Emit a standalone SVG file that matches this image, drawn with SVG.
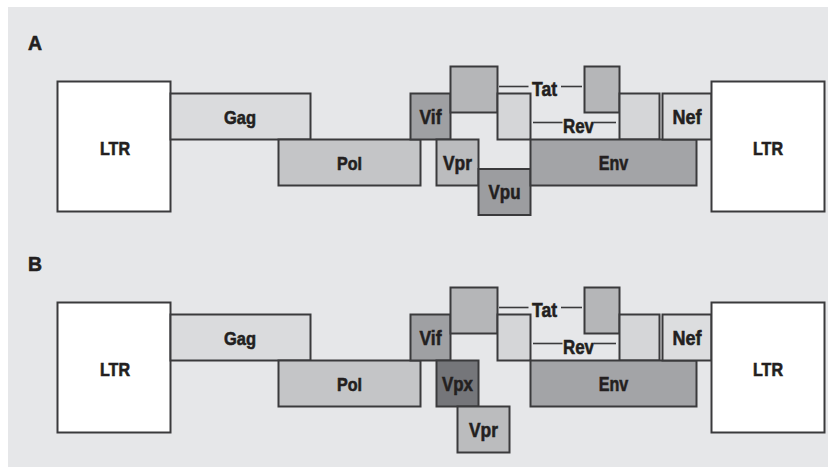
<svg xmlns="http://www.w3.org/2000/svg" width="828" height="467" viewBox="0 0 828 467">
<style>
rect.b{stroke:#3a3a3c;stroke-width:2}
.ltr{fill:#ffffff}
.gag{fill:#dadbdd}
.pol{fill:#c4c5c7}
.vif{fill:#9fa0a3}
.tat{fill:#b5b6b8}
.rev{fill:#d5d6d8}
.nef{fill:#dcdddf}
.env{fill:#a3a4a7}
.vpr{fill:#bbbcbe}
.vpu{fill:#9c9da0}
.vpx{fill:#75767a}
text{font-family:"Liberation Sans Narrow","Liberation Sans",Arial,sans-serif;font-weight:bold;fill:#231f20;stroke:#231f20;stroke-width:0.6;text-anchor:middle}
.sm{font-size:21px}
.md{font-size:19px}
.lg{font-size:18px}
.hd{font-size:20px;text-anchor:start}
.cn line{stroke:#3a3a3c;stroke-width:1.6}
</style>
<rect x="8" y="7" width="820" height="460" fill="#e6e7e9"/>

<g id="sectionA">
<text class="hd" x="28" y="50" textLength="14" lengthAdjust="spacingAndGlyphs">A</text>
<g id="a-ltr5"><rect class="b ltr" x="57.5" y="81.5" width="113" height="130"/><text class="lg" x="115" y="155" textLength="30" lengthAdjust="spacingAndGlyphs">LTR</text></g>
<g id="a-gag"><rect class="b gag" x="170.5" y="93.5" width="140" height="46"/><text class="md" x="240" y="123.5" textLength="32" lengthAdjust="spacingAndGlyphs">Gag</text></g>
<g id="a-pol"><rect class="b pol" x="278.5" y="139.5" width="142" height="46"/><text class="md" x="349.5" y="169.5" textLength="25" lengthAdjust="spacingAndGlyphs">Pol</text></g>
<g id="a-vif"><rect class="b vif" x="410.5" y="93.5" width="40" height="46"/><text class="sm" x="430.5" y="124" textLength="22" lengthAdjust="spacingAndGlyphs">Vif</text></g>
<g id="a-vpr"><rect class="b vpr" x="436.5" y="139.5" width="42" height="46"/><text class="sm" x="457.5" y="170" textLength="29" lengthAdjust="spacingAndGlyphs">Vpr</text></g>
<g id="a-vpu"><rect class="b vpu" x="478.5" y="169" width="52" height="46"/><text class="sm" x="504.5" y="199" textLength="32" lengthAdjust="spacingAndGlyphs">Vpu</text></g>
<g id="a-tat"><rect class="b tat" x="450.5" y="66.5" width="47" height="46"/><rect class="b tat" x="584.5" y="66.5" width="35" height="46"/><text class="sm" x="544.5" y="96" textLength="25" lengthAdjust="spacingAndGlyphs">Tat</text></g>
<g id="a-rev"><rect class="b rev" x="497.5" y="93.5" width="33" height="46"/><rect class="b rev" x="619.5" y="93.5" width="40" height="46"/><text class="sm" x="578.5" y="133" textLength="31" lengthAdjust="spacingAndGlyphs">Rev</text></g>
<g id="a-env"><rect class="b env" x="530.5" y="139.5" width="166" height="46"/><text class="sm" x="613.5" y="170" textLength="29.5" lengthAdjust="spacingAndGlyphs">Env</text></g>
<g id="a-nef"><rect class="b nef" x="662.5" y="93.5" width="49" height="46"/><text class="sm" x="687" y="124" textLength="29" lengthAdjust="spacingAndGlyphs">Nef</text></g>
<g id="a-ltr3"><rect class="b ltr" x="711.5" y="81.5" width="113" height="130"/><text class="lg" x="768" y="155" textLength="30" lengthAdjust="spacingAndGlyphs">LTR</text></g>
</g>

<g id="sectionB">
<text class="hd" x="28" y="271" textLength="14" lengthAdjust="spacingAndGlyphs">B</text>
<g id="b-ltr5"><rect class="b ltr" x="57.5" y="302.5" width="113" height="130"/><text class="lg" x="115" y="376" textLength="30" lengthAdjust="spacingAndGlyphs">LTR</text></g>
<g id="b-gag"><rect class="b gag" x="170.5" y="314.5" width="140" height="46"/><text class="md" x="240" y="344.5" textLength="32" lengthAdjust="spacingAndGlyphs">Gag</text></g>
<g id="b-pol"><rect class="b pol" x="278.5" y="360.5" width="142" height="46"/><text class="md" x="349.5" y="390.5" textLength="25" lengthAdjust="spacingAndGlyphs">Pol</text></g>
<g id="b-vif"><rect class="b vif" x="410.5" y="314.5" width="40" height="46"/><text class="sm" x="430.5" y="345" textLength="22" lengthAdjust="spacingAndGlyphs">Vif</text></g>
<g id="b-vpx"><rect class="b vpx" x="436.5" y="360.5" width="42" height="46"/><text class="sm" x="457.5" y="391" textLength="31" lengthAdjust="spacingAndGlyphs">Vpx</text></g>
<g id="b-vpr"><rect class="b vpr" x="457.5" y="406.5" width="52" height="46"/><text class="sm" x="483.5" y="437" textLength="29" lengthAdjust="spacingAndGlyphs">Vpr</text></g>
<g id="b-tat"><rect class="b tat" x="450.5" y="287.5" width="47" height="46"/><rect class="b tat" x="584.5" y="287.5" width="35" height="46"/><text class="sm" x="544.5" y="317" textLength="25" lengthAdjust="spacingAndGlyphs">Tat</text></g>
<g id="b-rev"><rect class="b rev" x="497.5" y="314.5" width="33" height="46"/><rect class="b rev" x="619.5" y="314.5" width="40" height="46"/><text class="sm" x="578.5" y="354" textLength="31" lengthAdjust="spacingAndGlyphs">Rev</text></g>
<g id="b-env"><rect class="b env" x="530.5" y="360.5" width="166" height="46"/><text class="sm" x="613.5" y="391" textLength="29.5" lengthAdjust="spacingAndGlyphs">Env</text></g>
<g id="b-nef"><rect class="b nef" x="662.5" y="314.5" width="49" height="46"/><text class="sm" x="687" y="345" textLength="29" lengthAdjust="spacingAndGlyphs">Nef</text></g>
<g id="b-ltr3"><rect class="b ltr" x="711.5" y="302.5" width="113" height="130"/><text class="lg" x="768" y="376" textLength="30" lengthAdjust="spacingAndGlyphs">LTR</text></g>
</g>

<g id="connectors" class="cn">
<line x1="499" y1="86.5" x2="528.5" y2="86.5"/>
<line x1="561" y1="86.5" x2="582" y2="86.5"/>
<line x1="533" y1="122.5" x2="562.5" y2="122.5"/>
<line x1="594" y1="122.5" x2="616" y2="122.5"/>
<line x1="499" y1="307.5" x2="528.5" y2="307.5"/>
<line x1="561" y1="307.5" x2="582" y2="307.5"/>
<line x1="533" y1="343.5" x2="562.5" y2="343.5"/>
<line x1="594" y1="343.5" x2="616" y2="343.5"/>
</g>
</svg>
